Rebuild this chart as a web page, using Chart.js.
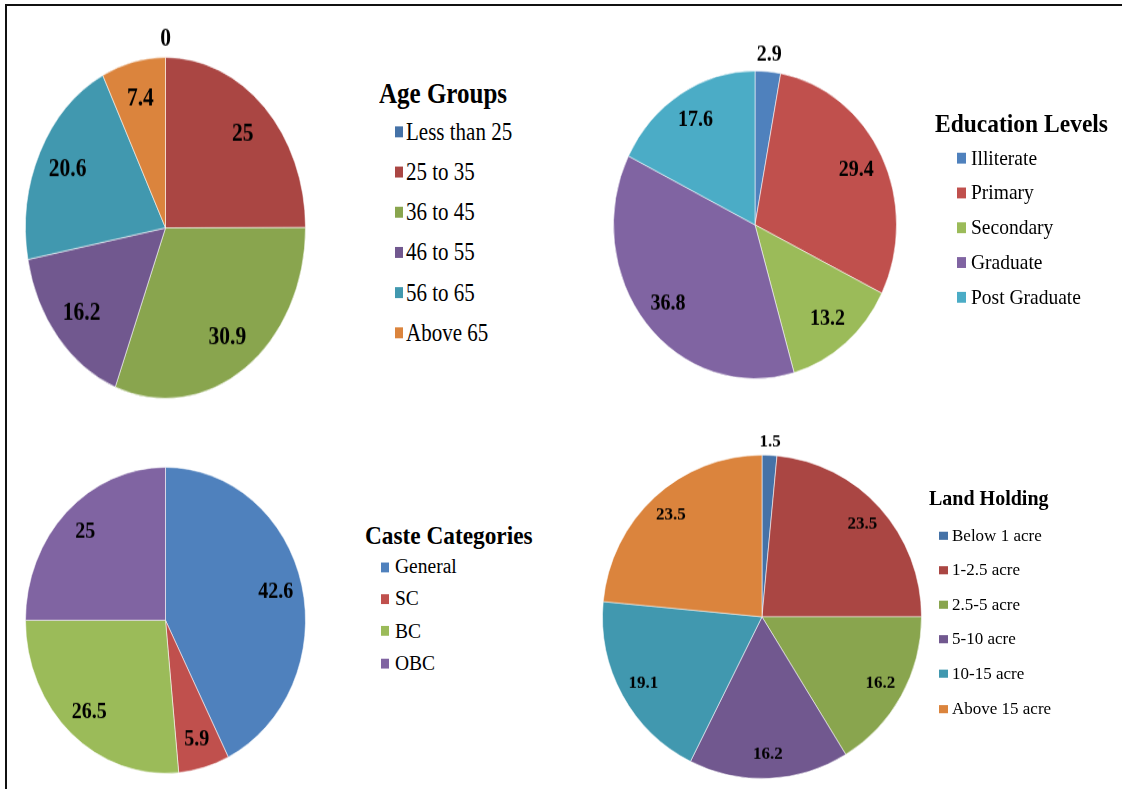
<!DOCTYPE html>
<html>
<head>
<meta charset="utf-8">
<script src="https://cdn.jsdelivr.net/npm/chart.js@4.4.1/dist/chart.umd.min.js"></script>
<style>
  html, body { margin: 0; padding: 0; background: #fff; }
  body {
    width: 1122px; height: 789px; position: relative; overflow: hidden;
    font-family: "Liberation Serif", "Times New Roman", serif; color: #000;
  }
  .frame-top { position: absolute; left: 5px; top: 4px; width: 1117px; height: 2px; background: #111; z-index: 5; }
  .frame-left { position: absolute; left: 5px; top: 4px; width: 2px; height: 785px; background: #111; z-index: 5; }
  .panel { position: absolute; transform-origin: 0 0; }
  .legend { position: absolute; transform-origin: 0 0; white-space: nowrap; }
  .legend .title { font-weight: bold; }
  .legend .item { display: flex; align-items: center; }
  .legend .box { display: inline-block; flex: none; }

  /* the source picture is stretched vertically, a bit differently per panel */
  #agePanel   { left: -15.5px; top: 7.7px;   transform: scaleY(1.218); }
  #eduPanel   { left: 572.5px; top: 26.7px;  transform: scaleY(1.087); }
  #castePanel { left: -15.5px; top: 422.7px; transform: scaleY(1.093); }
  #landPanel  { left: 562px;   top: 413.7px; transform: scaleY(1.014); }

  #ageLegend { left: 379px; top: 73.6px; transform: scaleY(1.218); }
  #ageLegend .title { font-size: 25px; line-height: 31px; }
  #ageLegend .item { font-size: 21px; height: 33px; padding-left: 16px; }
  #ageLegend .box { width: 8px; height: 9px; margin-right: 3px; }

  #eduLegend { left: 935px; top: 105.9px; transform: scaleY(1.087); }
  #eduLegend .title { font-size: 23.5px; line-height: 32.4px; }
  #eduLegend .item { font-size: 19.5px; height: 32px; padding-left: 22px; }
  #eduLegend .box { width: 9px; height: 10px; margin-right: 5px; }

  #casteLegend { left: 365px; top: 521px; transform: scaleY(1.093); }
  #casteLegend .title { font-size: 23.3px; line-height: 27.5px; }
  #casteLegend .item { font-size: 19.5px; height: 29.3px; padding-left: 16px; }
  #casteLegend .box { width: 8px; height: 9px; margin-right: 6px; }

  #landLegend { left: 929px; top: 479.2px; transform: scaleY(1.014); }
  #landLegend .title { font-size: 20px; line-height: 39px; }
  #landLegend .item { font-size: 17px; height: 34.1px; padding-left: 10px; }
  #landLegend .box { width: 9px; height: 8px; margin-right: 4px; }
</style>
</head>
<body>
<div class="frame-top"></div>
<div class="frame-left"></div>

<div class="panel" id="agePanel"><canvas id="ageChart" width="361" height="361"></canvas></div>
<div class="panel" id="eduPanel"><canvas id="eduChart" width="364" height="364"></canvas></div>
<div class="panel" id="castePanel"><canvas id="casteChart" width="361" height="361"></canvas></div>
<div class="panel" id="landPanel"><canvas id="landChart" width="400" height="400"></canvas></div>

<div class="legend" id="ageLegend"></div>
<div class="legend" id="eduLegend"></div>
<div class="legend" id="casteLegend"></div>
<div class="legend" id="landLegend"></div>

<script>
// Data (percent of respondents)
const ageLabels = ['Less than 25', '25 to 35', '36 to 45', '46 to 55', '56 to 65', 'Above 65'];
const ageValues = [0, 25, 30.9, 16.2, 20.6, 7.4];

const eduLabels = ['Illiterate', 'Primary', 'Secondary', 'Graduate', 'Post Graduate'];
const eduValues = [2.9, 29.4, 13.2, 36.8, 17.6];

const casteLabels = ['General', 'SC', 'BC', 'OBC'];
const casteValues = [42.6, 5.9, 26.5, 25];

const landLabels = ['Below 1 acre', '1-2.5 acre', '2.5-5 acre', '5-10 acre', '10-15 acre', 'Above 15 acre'];
const landValues = [1.5, 23.5, 16.2, 16.2, 19.1, 23.5];

// Office palettes
const darkPalette = ['#4572A7', '#AA4643', '#89A54E', '#71588F', '#4198AF', '#DB843D'];
const brightPalette = ['#4F81BD', '#C0504D', '#9BBB59', '#8064A2', '#4BACC6'];

// value labels placed on each slice
const sliceLabels = {
    id: 'sliceLabels',
    afterDatasetsDraw(chart, args, opts) {
        const ctx = chart.ctx;
        const meta = chart.getDatasetMeta(0);
        const values = chart.data.datasets[0].data;
        ctx.save();
        ctx.font = 'bold ' + opts.size + 'px "Liberation Serif", "Times New Roman", serif';
        ctx.fillStyle = '#000';
        ctx.textAlign = 'center';
        ctx.textBaseline = 'middle';
        meta.data.forEach((arc, i) => {
            const p = arc.getProps(['x', 'y', 'startAngle', 'endAngle', 'outerRadius'], true);
            const mid = (p.startAngle + p.endAngle) / 2;
            const f = values[i] < opts.minInside ? opts.outside : opts.inside;
            ctx.fillText(String(values[i]),
                p.x + Math.cos(mid) * p.outerRadius * f,
                p.y + Math.sin(mid) * p.outerRadius * f);
        });
        ctx.restore();
    }
};

function makePie(id, labels, values, colors, labelOpts) {
    return new Chart(document.getElementById(id), {
        type: 'pie',
        data: {
            labels: labels,
            datasets: [{
                data: values,
                backgroundColor: colors.slice(0, values.length),
                borderColor: 'rgba(255,255,255,0.55)',
                borderWidth: 1
            }]
        },
        options: {
            responsive: false,
            animation: false,
            events: [],
            layout: { padding: 40 },
            plugins: {
                legend: { display: false },
                tooltip: { enabled: false },
                sliceLabels: labelOpts
            }
        },
        plugins: [sliceLabels]
    });
}

function buildLegend(id, title, labels, colors) {
    const el = document.getElementById(id);
    const t = document.createElement('div');
    t.className = 'title';
    t.textContent = title;
    el.appendChild(t);
    labels.forEach((lab, i) => {
        const row = document.createElement('div');
        row.className = 'item';
        const box = document.createElement('span');
        box.className = 'box';
        box.style.background = colors[i];
        const txt = document.createElement('span');
        txt.textContent = lab;
        row.appendChild(box);
        row.appendChild(txt);
        el.appendChild(row);
    });
}

makePie('ageChart', ageLabels, ageValues, darkPalette, { size: 21.5, inside: 0.78, outside: 1.11, minInside: 4 });
makePie('eduChart', eduLabels, eduValues, brightPalette, { size: 20, inside: 0.80, outside: 1.11, minInside: 4 });
makePie('casteChart', casteLabels, casteValues, brightPalette, { size: 20, inside: 0.81, outside: 1.11, minInside: 4 });
makePie('landChart', landLabels, landValues, darkPalette, { size: 17, inside: 0.85, outside: 1.08, minInside: 4 });

buildLegend('ageLegend', 'Age Groups', ageLabels, darkPalette);
buildLegend('eduLegend', 'Education Levels', eduLabels, brightPalette);
buildLegend('casteLegend', 'Caste Categories', casteLabels, brightPalette);
buildLegend('landLegend', 'Land Holding', landLabels, darkPalette);
</script>
</body>
</html>
